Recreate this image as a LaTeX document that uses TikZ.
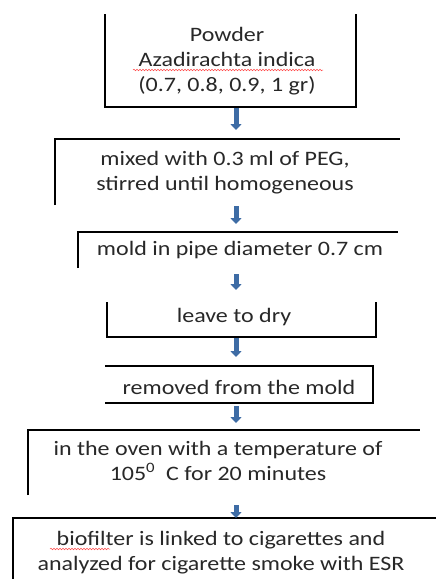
\documentclass[tikz,border=0pt]{standalone}
\usepackage{fontspec}
\setmainfont{Carlito}[FakeStretch=1.17]
\usetikzlibrary{arrows.meta,fit,decorations.pathmorphing}
\definecolor{flowblue}{RGB}{62,108,165}
\definecolor{ink}{RGB}{40,40,40}
\tikzset{
  frame/.style={inner sep=0pt, outer sep=0pt, draw=none},
  edge/.style={draw=black, line width=1.3pt},
  flow/.style={draw=flowblue, line width=5pt, -{Triangle[width=11pt,length=6pt]}},
  txt/.style={text=ink, align=center, anchor=base, inner sep=0pt, font=\fontsize{20.5}{25}\selectfont},
  spell/.style={draw=red!70, line width=0.5pt, decorate, decoration={snake, segment length=3pt, amplitude=0.8pt}}
}
\begin{document}
\begin{tikzpicture}[x=1pt,y=-1pt]
\useasboundingbox (0,0) rectangle (436,579);
\fill[white] (0,0) rectangle (436,579);
\coordinate (ax) at (236,0);
% boxes
\node[frame, fit={(105,14) (356,107)}] (b1) {};
\node[frame, fit={(55,139) (400,205)}] (b2) {};
\node[frame, fit={(78,232) (398,268)}] (b3) {};
\node[frame, fit={(107,302) (376,337)}] (b4) {};
\node[frame, fit={(105,366) (373,403)}] (b5) {};
\node[frame, fit={(28,430) (420,495)}] (b6) {};
\node[frame, fit={(13,518) (440,585)}] (b7) {};
% visible edges
\draw[edge] (b1.north west) -- (b1.south west) -- (b1.south east) -- (b1.north east);
\draw[edge] (b2.south west) -- (b2.north west) -- (b2.north east);
\draw[edge] (b3.south west) -- (b3.north west) -- (b3.north east);
\draw[edge] (b4.north west) -- (b4.south west) -- (b4.south east) -- (b4.north east);
\draw[edge] (b5.north west) -- (b5.north east) -- (b5.south east) -- (b5.south west);
\draw[edge] (b6.south west) -- (b6.north west) -- (b6.north east);
\draw[edge] (b7.south west) -- (b7.north west) -- (b7.north east);
% texts (anchor = baseline of the last line)
\node[txt] (t1) at (227,91) {Powder\\Azadirachta indica\\(0.7, 0.8, 0.9, 1 gr)};
\node[txt] (t2) at (225,190) {mixed with 0.3 ml of PEG,\\stirred until homogeneous};
\node[txt] (t3) at (240,255) {mold in pipe diameter 0.7 cm};
\node[txt] (t4) at (234,322) {leave to dry};
\node[txt] (t5) at (239,394) {removed from the mold};
\node[txt] (t6) at (218,480) {in the oven with a temperature of\\105\textsuperscript{0}\ \ C for 20 minutes};
\node[txt] (t7) at (221,570) {biofilter is linked to cigarettes and\\analyzed for cigarette smoke with ESR};
% spell-check underlines
\draw[spell] (133,70) -- (323,70);
\draw[spell] (50,549) -- (110,549);
% arrows
\draw[flow, shorten <=1pt, shorten >=9pt] (b1.south -| ax) -- (b2.north -| ax);
\draw[flow, shorten <=1pt, shorten >=8pt] (b2.south -| ax) -- (b3.north -| ax);
\draw[flow, shorten <=6pt, shorten >=12pt] (b3.south -| ax) -- (b4.north -| ax);
\draw[flow, shorten <=1pt, shorten >=9pt] (b4.south -| ax) -- (b5.north -| ax);
\draw[flow, shorten <=3pt, shorten >=7pt] (b5.south -| ax) -- (b6.north -| ax);
\draw[flow, shorten <=10pt, shorten >=0pt] (b6.south -| ax) -- (b7.north -| ax);
\end{tikzpicture}
\end{document}
